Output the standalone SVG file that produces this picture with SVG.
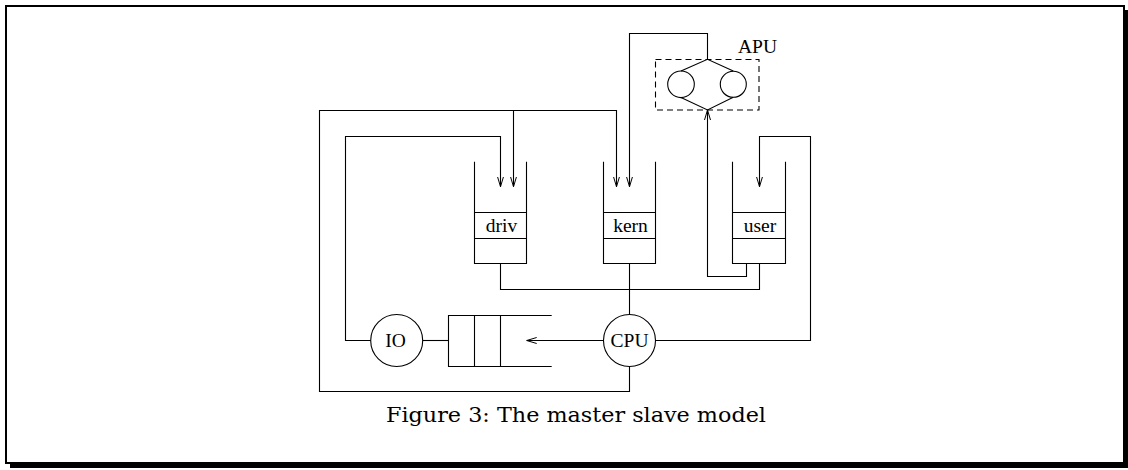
<svg xmlns="http://www.w3.org/2000/svg" width="1128" height="470" viewBox="0 0 1128 470">
<defs>
<marker id="arr" markerWidth="12" markerHeight="12" refX="10" refY="6" orient="auto" markerUnits="userSpaceOnUse">
<path d="M0,3 L10,6 L0,9" fill="none" stroke="#000" stroke-width="1"/>
</marker>
<style>
.ln{fill:none;stroke:#000;stroke-width:1.1}
.lbl{font-family:"Liberation Serif","Times New Roman",serif;font-size:19.5px;fill:#000;text-anchor:middle}
.cap{font-family:"DejaVu Serif","Liberation Serif",serif;font-size:20.5px;fill:#000}
</style>
</defs>
<rect width="1128" height="470" fill="#fff"/>
<g id="frame">
<rect x="6" y="6" width="1118" height="457" fill="none" stroke="#000" stroke-width="2"/>
<rect x="10" y="462" width="1118" height="6" fill="#000"/>
<rect x="1123" y="10" width="5" height="458" fill="#000"/>
</g>
<g id="connectors" class="ln">
<polyline class="ln" points="629.5,366.7 629.5,391.5 319.5,391.5 319.5,110.5 616.5,110.5 616.5,186.7" marker-end="url(#arr)"/>
<polyline class="ln" points="513.5,110.5 513.5,186.7" marker-end="url(#arr)"/>
<polyline class="ln" points="370.7,340.5 345.5,340.5 345.5,136.5 500.5,136.5 500.5,186.7" marker-end="url(#arr)"/>
<polyline class="ln" points="707.5,59.3 707.5,33.5 629.5,33.5 629.5,186.7" marker-end="url(#arr)"/>
<polyline class="ln" points="655.3,340.5 810.5,340.5 810.5,136.5 759.5,136.5 759.5,186.7" marker-end="url(#arr)"/>
<polyline class="ln" points="500.5,263.5 500.5,289.5 759.5,289.5 759.5,263.5"/>
<polyline class="ln" points="629.5,263.5 629.5,314.7"/>
<polyline class="ln" points="746.5,263.5 746.5,276.5 707.5,276.5 707.5,110" marker-end="url(#arr)"/>
<polyline class="ln" points="422.7,340.5 448.5,340.5"/>
<polyline class="ln" points="603.3,340.5 526.7,340.5" marker-end="url(#arr)"/>
</g>
<g id="queue-driv">
<path class="ln" d="M474.5,161.7 V263.5 H526.5 V161.7 M474.5,212.5 H526.5 M474.5,238.5 H526.5"/>
<text class="lbl" x="501.5" y="231.5">driv</text>
</g>
<g id="queue-kern">
<path class="ln" d="M603.5,161.7 V263.5 H655.5 V161.7 M603.5,212.5 H655.5 M603.5,238.5 H655.5"/>
<text class="lbl" x="630.5" y="231.5">kern</text>
</g>
<g id="queue-user">
<path class="ln" d="M732.5,161.7 V263.5 H785.5 V161.7 M732.5,212.5 H785.5 M732.5,238.5 H785.5"/>
<text class="lbl" x="760" y="231.5">user</text>
</g>
<g id="queue-io">
<path class="ln" d="M551.7,315.5 H448.5 V366.5 H551.7 M474.5,315.5 V366.5 M500.5,315.5 V366.5"/>
</g>
<g id="io">
<circle class="ln" cx="396.7" cy="340.5" r="26"/>
<text class="lbl" x="395.5" y="346.7">IO</text>
</g>
<g id="cpu">
<circle class="ln" cx="629.5" cy="340.5" r="26"/>
<text class="lbl" x="629.5" y="346.7">CPU</text>
</g>
<g id="apu">
<rect x="655.5" y="59.5" width="103.5" height="50.5" fill="none" stroke="#000" stroke-width="1.1" stroke-dasharray="6,4"/>
<path class="ln" d="M681,71 L707.5,59.3 L733.3,71 M681,97.6 L707.5,110 L733.3,97.3"/>
<circle class="ln" cx="681" cy="84.3" r="13.3"/>
<circle class="ln" cx="733.3" cy="84.3" r="13"/>
<text class="lbl" x="757.5" y="53.3">APU</text>
</g>
<text class="cap" x="386" y="422" textLength="380" lengthAdjust="spacingAndGlyphs">Figure 3: The master slave model</text>
</svg>
